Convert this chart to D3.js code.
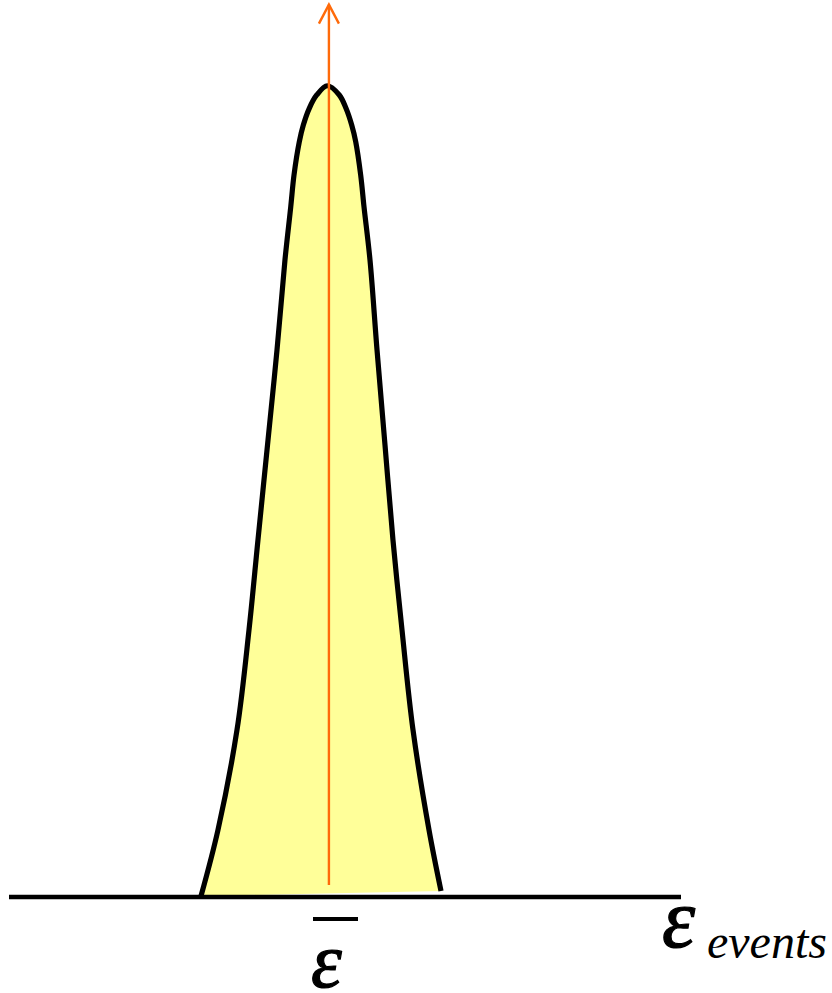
<!DOCTYPE html>
<html>
<head>
<meta charset="utf-8">
<script src="https://cdn.jsdelivr.net/npm/d3@7"></script>
<style>
  html, body { margin: 0; padding: 0; background: #ffffff; }
  svg { display: block; }
</style>
</head>
<body>
<script>
// Outline of the event-energy distribution, traced left to right
const energy  = [28.51, 31.04, 33.88, 35.67, 37.01, 38.51, 39.85, 41.04, 41.90, 42.39, 43.18, 43.78, 44.67, 45.78, 47.36,
                 49.15, 50.15, 51.00, 51.60, 52.34, 52.84, 53.73, 54.78, 55.97, 57.16, 58.51, 60.15, 62.54, 64.33];
const density = [0.12, 8.25, 20.57, 32.88, 43.97, 56.28, 67.36, 78.45, 84.98, 88.92, 93.02, 95.07, 97.13, 98.77, 99.91,
                 98.77, 97.13, 95.07, 93.02, 88.92, 84.98, 78.45, 67.36, 55.67, 43.97, 32.88, 20.57, 8.25, 0.74];

// Mean energy marker and axis extent
const meanEnergy = [47.6];
const arrowTip = [109.9];
const axisDomain = [0, 100];

// Labels
const meanLabel = ["ε"];
const axisLabel = ["ε", "events"];

const W = 832, H = 993;

const x = d3.scaleLinear().domain(axisDomain).range([10, 680]);
const y = d3.scaleLinear().domain([0, 100]).range([897, 85]);

const svg = d3.select("body").append("svg")
  .attr("width", W).attr("height", H);

const pts = energy.map((e, i) => [x(e), y(density[i])]);

const outline = d3.line().curve(d3.curveCatmullRom.alpha(0.5));

// filled body of the peak (closed straight along the base)
svg.append("path")
  .attr("d", outline(pts) + "Z")
  .attr("fill", "#ffff99")
  .attr("stroke", "none");

// outline of the peak
svg.append("path")
  .attr("d", outline(pts))
  .attr("fill", "none")
  .attr("stroke", "#000")
  .attr("stroke-width", 5.2)
  .attr("stroke-linejoin", "round");

// horizontal energy axis
svg.append("line")
  .attr("x1", x(axisDomain[0]) - 1).attr("x2", x(axisDomain[1]) + 1)
  .attr("y1", y(0)).attr("y2", y(0))
  .attr("stroke", "#000")
  .attr("stroke-width", 4.5);

// mean energy arrow
const mx = x(meanEnergy[0]);
const tipY = y(arrowTip[0]);
svg.append("line")
  .attr("x1", mx).attr("x2", mx)
  .attr("y1", y(0) - 12).attr("y2", tipY)
  .attr("stroke", "#ff6a0a")
  .attr("stroke-width", 2.4);
svg.append("path")
  .attr("d", `M${mx - 10},${tipY + 19} L${mx},${tipY} L${mx + 10},${tipY + 19}`)
  .attr("fill", "none")
  .attr("stroke", "#ff6a0a")
  .attr("stroke-width", 2.4);

// mean label with overbar
svg.append("line")
  .attr("x1", 313).attr("x2", 358)
  .attr("y1", 919).attr("y2", 919)
  .attr("stroke", "#000")
  .attr("stroke-width", 4.2);
svg.append("text")
  .attr("x", 311).attr("y", 987)
  .attr("font-family", "'Liberation Serif', 'Times New Roman', serif")
  .attr("font-style", "italic")
  .attr("font-size", 78)
  .attr("stroke", "#000")
  .attr("stroke-width", 1.2)
  .attr("fill", "#000")
  .text(meanLabel[0]);

// axis label
const lab = svg.append("text")
  .attr("x", 662).attr("y", 947)
  .attr("font-family", "'Liberation Serif', 'Times New Roman', serif")
  .attr("font-style", "italic")
  .attr("fill", "#000");
lab.append("tspan").attr("font-size", 84)
  .attr("stroke", "#000").attr("stroke-width", 1.2).text(axisLabel[0]);
lab.append("tspan").attr("x", 707).attr("font-size", 48).attr("dy", 11).text(axisLabel[1]);
</script>
</body>
</html>
